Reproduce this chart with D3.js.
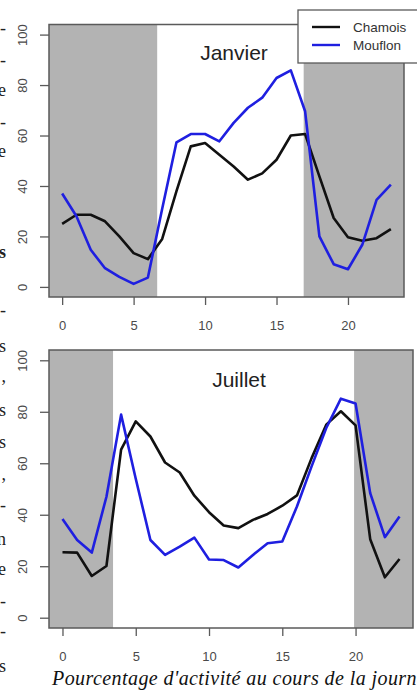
<!DOCTYPE html>
<html><head><meta charset="utf-8">
<script src="https://cdn.jsdelivr.net/npm/d3@7"></script>
<style>html,body{margin:0;padding:0;background:#fff;overflow:hidden}</style>
</head><body>
<svg id="c" width="417" height="691"></svg>
<script>
const hours = [0,1,2,3,4,5,6,7,8,9,10,11,12,13,14,15,16,17,18,19,20,21,22,23];
const xTicks = [0,5,10,15,20];
const yTicks = [0,20,40,60,80,100];
const seriesNames = ["Chamois","Mouflon"];
const seriesColors = ["#111111","#1f1fe0"];
const janvierChamois = [25,28.6,28.6,26,20,13.4,11,19,38,55.7,57,52.4,47.7,42.5,45,50.4,60,60.6,43.8,27.3,19.7,18.3,19.3,22.9];
const janvierMouflon = [37,28,14.7,7.4,4,1.2,3.7,31,57.3,60.6,60.6,57.7,65,71,75,82.8,85.8,69.6,20,9,7,16.7,34.5,40.5];
const juilletChamois = [25.4,25.3,16.2,20.1,65.3,76.3,70.4,60.3,56.4,47.4,41,35.8,34.8,38,40.3,43.5,47.5,62,75,80.2,74.7,30.5,15.7,22.8];
const juilletMouflon = [38.3,30.2,25.3,47,78.9,54,30.2,24.4,27.6,31.1,22.6,22.4,19.5,24.4,28.9,29.6,43.2,58.8,73.7,85.1,83.2,48.4,31.3,39.3];
const janvierNight = [6.65,16.9];   // sunrise, sunset (hours)
const juilletNight = [3.45,19.9];
const titles = ["Janvier","Juillet"];
const caption = "Pourcentage d'activité au cours de la journée";
const sideFragments = [["-",34],["-",66],["e",96],["-",128],["e",157],["s",258],["-",316],
  ["s",352],[",",382],["s",416],["s",448],[",",480],["-",511],["n",545],["e",575],["-",607],["-",637],["s",672]];

const svg = d3.select("#c");
const xDom = [-0.92, 23.92], yDom = [-4, 104];

const panels = [
  {left:49,right:404,top:24.5,bottom:297,data:[janvierChamois,janvierMouflon],night:janvierNight,title:titles[0],tx:234,ty:59.5,labY:330},
  {left:49,right:413,top:350,bottom:628,data:[juilletChamois,juilletMouflon],night:juilletNight,title:titles[1],tx:239,ty:387,labY:661}
];

panels.forEach(p=>{
  const x = d3.scaleLinear().domain(xDom).range([p.left,p.right]);
  const y = d3.scaleLinear().domain(yDom).range([p.bottom,p.top]);
  const g = svg.append("g");
  g.append("rect").attr("x",x(xDom[0])).attr("y",p.top)
    .attr("width",x(p.night[0])-x(xDom[0])).attr("height",p.bottom-p.top).attr("fill","#b3b3b3");
  g.append("rect").attr("x",x(p.night[1])).attr("y",p.top)
    .attr("width",x(xDom[1])-x(p.night[1])).attr("height",p.bottom-p.top).attr("fill","#b3b3b3");
  const line = d3.line().x((d,i)=>x(hours[i])).y(d=>y(d));
  p.data.forEach((s,k)=>{
    g.append("path").datum(s).attr("d",line).attr("fill","none")
      .attr("stroke",seriesColors[k]).attr("stroke-width",2.6).attr("stroke-linejoin","round");
  });
  g.append("rect").attr("x",p.left).attr("y",p.top).attr("width",p.right-p.left).attr("height",p.bottom-p.top)
    .attr("fill","none").attr("stroke","#5a5a5a").attr("stroke-width",1.5);
  const xa = d3.axisBottom(x).tickValues(xTicks).tickSize(8).tickFormat(d3.format("d"));
  const ya = d3.axisLeft(y).tickValues(yTicks).tickSize(9).tickFormat(d3.format("d"));
  const gx = g.append("g").attr("transform",`translate(0,${p.bottom})`).call(xa);
  gx.select(".domain").remove();
  gx.selectAll("line").attr("stroke","#5a5a5a").attr("stroke-width",1.3);
  gx.selectAll("text").attr("font-family","Liberation Sans, Arial, sans-serif").attr("font-size",13)
    .attr("fill","#4a4a4a").attr("dy",null).attr("y",p.labY-p.bottom);
  const gy = g.append("g").attr("transform",`translate(${p.left},0)`).call(ya);
  gy.select(".domain").remove();
  gy.selectAll("line").attr("stroke","#5a5a5a").attr("stroke-width",1.3);
  gy.selectAll("text").attr("font-family","Liberation Sans, Arial, sans-serif").attr("font-size",13)
    .attr("fill","#4a4a4a").attr("x",null).attr("dy",null).attr("text-anchor","middle")
    .attr("transform","translate(-17,0) rotate(-90)").attr("y",-5);
  g.append("text").attr("x",p.tx).attr("y",p.ty).attr("text-anchor","middle")
    .attr("font-family","Liberation Sans, Arial, sans-serif").attr("font-size",21).attr("fill","#222")
    .text(p.title);
});

// legend
const lg = svg.append("g");
lg.append("rect").attr("x",298).attr("y",10).attr("width",140).attr("height",53)
  .attr("fill","#fff").attr("stroke","#5a5a5a").attr("stroke-width",1.3);
seriesNames.forEach((n,i)=>{
  const yy = 27 + i*18;
  lg.append("line").attr("x1",312).attr("x2",340).attr("y1",yy).attr("y2",yy)
    .attr("stroke",seriesColors[i]).attr("stroke-width",2.4);
  lg.append("text").attr("x",353).attr("y",yy+5).attr("font-family","Liberation Sans, Arial, sans-serif")
    .attr("font-size",13.5).attr("fill","#333").text(n);
});

// caption (letter-spaced so that "...journ" reaches the right edge as in the reference)
const cap = svg.append("text").attr("x",52).attr("y",685).attr("font-family","Liberation Serif, serif")
  .attr("font-style","italic").attr("font-size",20).attr("fill","#111").text(caption);
const nVisible = "Pourcentage d'activité au cours de la journ".length;
const visLen = cap.node().getSubStringLength(0, nVisible);
cap.attr("letter-spacing", ((417-52) - visLen) / nVisible);

// side fragments of surrounding text
svg.append("g").selectAll("text").data(sideFragments).join("text")
  .attr("x",6).attr("y",d=>d[1]).attr("text-anchor","end")
  .attr("font-family","Liberation Serif, serif").attr("font-size",18)
  .attr("font-weight",(d,i)=>i===5?"bold":"normal").attr("fill","#222").text(d=>d[0]);
</script>
</body></html>
